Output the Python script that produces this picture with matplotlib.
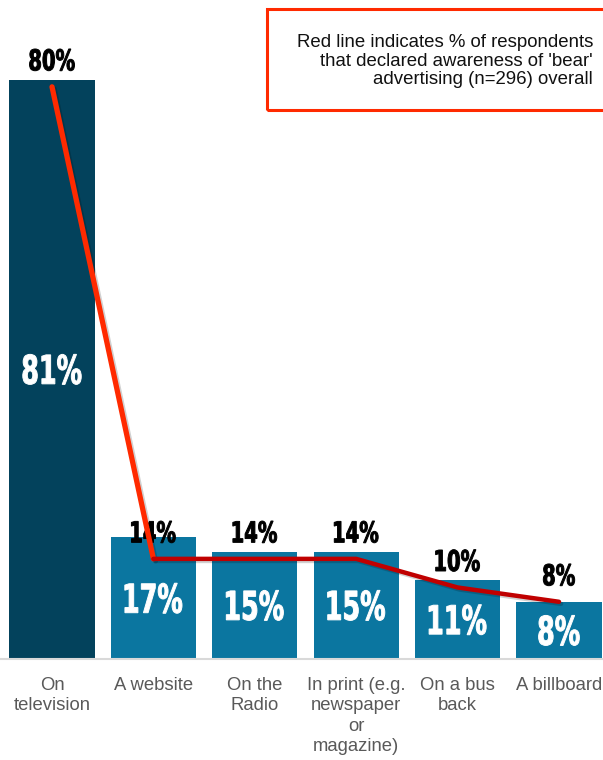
import matplotlib.pyplot as plt
import matplotlib.patheffects as pe
from matplotlib.patches import Rectangle, PathPatch
from matplotlib.textpath import TextPath
from matplotlib.font_manager import FontProperties
from matplotlib.transforms import Affine2D, ScaledTranslation

categories = ["On\ntelevision", "A website", "On the\nRadio",
              "In print (e.g.\nnewspaper\nor\nmagazine)", "On a bus\nback", "A billboard"]
bar_values = [81, 17, 15, 15, 11, 8]
overall_values = [80, 14, 14, 14, 10, 8]
note_text = ("Red line indicates % of respondents\n"
             "that declared awareness of 'bear'\n"
             "advertising (n=296) overall")

BAR_DARK = "#03425C"
BAR_BLUE = "#0B76A0"
RED_BRIGHT = "#FF2A00"
RED_DARK = "#C00000"
BOLD = FontProperties(family="DejaVu Sans", weight="bold")


def narrow_label(ax, x, y, s, cap_px, color, dy_px=0, squeeze=0.64, zorder=4):
    """Draw s centred on data point (x, y) as a squeezed bold glyph outline."""
    path = TextPath((0, 0), s, size=100, prop=BOLD)
    ext = path.get_extents()
    k = cap_px / 73.0
    tr = (Affine2D()
          .translate(-(ext.x0 + ext.x1) / 2, -36.5)
          .scale(k * squeeze, k)
          .translate(0, dy_px)
          + ScaledTranslation(x, y, ax.transData))
    ax.add_patch(PathPatch(path, transform=tr, facecolor=color, edgecolor=color,
                           linewidth=0.7, zorder=zorder, clip_on=False))


fig = plt.figure(figsize=(6.03, 7.60), dpi=100)
ax = fig.add_axes([0, 101 / 760, 1, 658 / 760])
ax.set_xlim(-0.513, 5.434)
ax.set_ylim(0, 92)

x = list(range(len(categories)))
colors = [BAR_DARK] + [BAR_BLUE] * (len(categories) - 1)
bars = ax.bar(x, bar_values, width=0.84, color=colors, zorder=2)

# value labels inside the bars
for xi, v in zip(x, bar_values):
    narrow_label(ax, xi, v / 2, f"{v}%", 29, "white", zorder=3)

# overall awareness line: steep first drop is brighter
shadow = [pe.SimpleLineShadow(offset=(1.5, -1.5), alpha=0.18), pe.Normal()]
ax.plot(x[:2], overall_values[:2], color=RED_BRIGHT, lw=3.8,
        solid_capstyle="round", zorder=5, path_effects=shadow)
ax.plot(x[1:], overall_values[1:], color=RED_DARK, lw=3.2,
        solid_capstyle="round", solid_joinstyle="round", zorder=5,
        path_effects=shadow)

for xi, v in zip(x, overall_values):
    narrow_label(ax, xi, v, f"{v}%", 21, "black", dy_px=27, squeeze=0.68)

for s in ["top", "right", "left"]:
    ax.spines[s].set_visible(False)
ax.spines["bottom"].set_color("#D9D9D9")
ax.spines["bottom"].set_linewidth(1.5)
ax.set_yticks([])
ax.set_xticks(x)
ax.set_xticklabels(categories, fontsize=13.3, color="#595959", family="Liberation Sans",
                   linespacing=1.25)
ax.tick_params(axis="x", length=0, pad=13)

# note box in the top right corner
fig.patches.append(Rectangle((267 / 603, 1 - 110 / 760), 345 / 603, 101 / 760,
                             transform=fig.transFigure, fill=False,
                             edgecolor=RED_BRIGHT, lw=2.2))
fig.text(593 / 603, 1 - 61 / 760, note_text, ha="right", va="center",
         fontsize=13.4, family="Liberation Sans", color="#111111", linespacing=1.13)

fig.savefig("out.png", dpi=100)
